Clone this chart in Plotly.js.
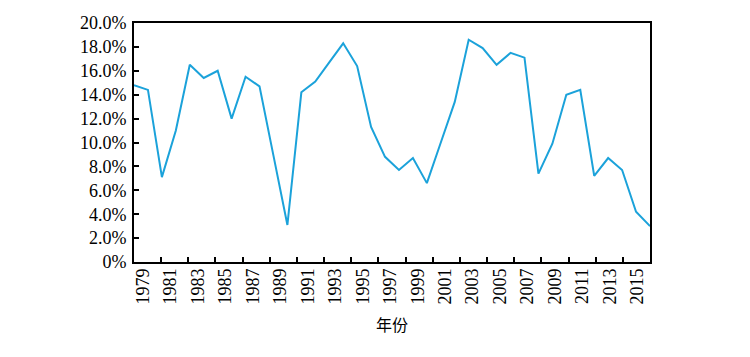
<!DOCTYPE html>
<html>
<head>
<meta charset="utf-8">
<script src="https://cdn.plot.ly/plotly-3.0.1.min.js"></script>
<style>html,body{margin:0;padding:0;background:#fff;}#chart{width:750px;height:357px;}</style>
</head>
<body>
<div id="chart"></div>
<script>
const years = [1978,1979,1980,1981,1982,1983,1984,1985,1986,1987,1988,1989,1990,1991,1992,1993,1994,1995,1996,1997,1998,1999,2000,2001,2002,2003,2004,2005,2006,2007,2008,2009,2010,2011,2012,2013,2014,2015];
const growthRate = [14.8,14.4,7.1,11.0,16.5,15.4,16.0,12.0,15.5,14.7,8.9,3.1,14.2,15.1,16.7,18.3,16.4,11.3,8.8,7.7,8.7,6.6,10.0,13.4,18.6,17.9,16.5,17.5,17.1,7.4,9.9,14.0,14.4,7.2,8.7,7.7,4.2,3.0];
const labelYears = [1979,1981,1983,1985,1987,1989,1991,1993,1995,1997,1999,2001,2003,2005,2007,2009,2011,2013,2015];
const tickYears = [1980,1982,1984,1986,1988,1990,1992,1994,1996,1998,2000,2002,2004,2006,2008,2010,2012,2014];
const yTickVals = [0,2,4,6,8,10,12,14,16,18,20];
const yTickText = ['0%','2.0%','4.0%','6.0%','8.0%','10.0%','12.0%','14.0%','16.0%','18.0%','20.0%'];
const xTitle = '年份';

const serif = {family: '"Liberation Serif", "Times New Roman", serif', size: 18, color: '#000'};

const data = [
  // invisible carriers so the tick axis and label axis are drawn
  {type: 'scatter', mode: 'lines', x: years, y: growthRate, xaxis: 'x', opacity: 0, hoverinfo: 'skip'},
  {type: 'scatter', mode: 'lines', x: years, y: growthRate, xaxis: 'x3', opacity: 0, hoverinfo: 'skip'},
  {
    type: 'scatter', mode: 'lines',
    x: years, y: growthRate, xaxis: 'x2',
    line: {color: '#1ba2da', width: 2},
    hoverinfo: 'skip'
  }
];

const layout = {
  width: 750, height: 357,
  margin: {l: 134, r: 100, t: 23, b: 95, pad: 0},
  paper_bgcolor: '#fff', plot_bgcolor: '#fff',
  showlegend: false,
  // tick axis (main): ticks at even years
  xaxis: {
    range: [1978, 2016], tickvals: tickYears, showticklabels: false,
    ticks: 'inside', ticklen: 5, tickwidth: 2, tickcolor: '#000',
    showline: true, mirror: true, linecolor: '#000', linewidth: 2,
    showgrid: false, zeroline: false
  },
  // data axis: 1978..2015 spans the full width
  xaxis2: {
    overlaying: 'x', anchor: 'y', side: 'bottom',
    range: [1978, 2015], showticklabels: false, ticks: '',
    showgrid: false, showline: false, zeroline: false
  },
  // label axis
  xaxis3: {
    overlaying: 'x', anchor: 'y', side: 'bottom',
    range: [1978.34, 2015.92], tickvals: labelYears, ticktext: labelYears.map(String),
    tickangle: -90, ticks: '', tickfont: serif, ticklabelstandoff: 2,
    showgrid: false, showline: false, zeroline: false
  },
  yaxis: {
    range: [0, 20], tickvals: yTickVals, ticktext: yTickText,
    ticks: 'inside', ticklen: 5, tickwidth: 2, tickcolor: '#000',
    showline: true, mirror: true, linecolor: '#000', linewidth: 2,
    showgrid: false, zeroline: false, tickfont: serif, ticklabelstandoff: 2
  },
  annotations: [{
    text: xTitle, xref: 'paper', yref: 'paper', x: 0.5, y: -0.26,
    xanchor: 'center', yanchor: 'middle', showarrow: false,
    font: {family: '"Noto Sans CJK SC", sans-serif', size: 16, color: '#000'}
  }]
};

Plotly.newPlot('chart', data, layout, {staticPlot: true, displayModeBar: false});
</script>
</body>
</html>
